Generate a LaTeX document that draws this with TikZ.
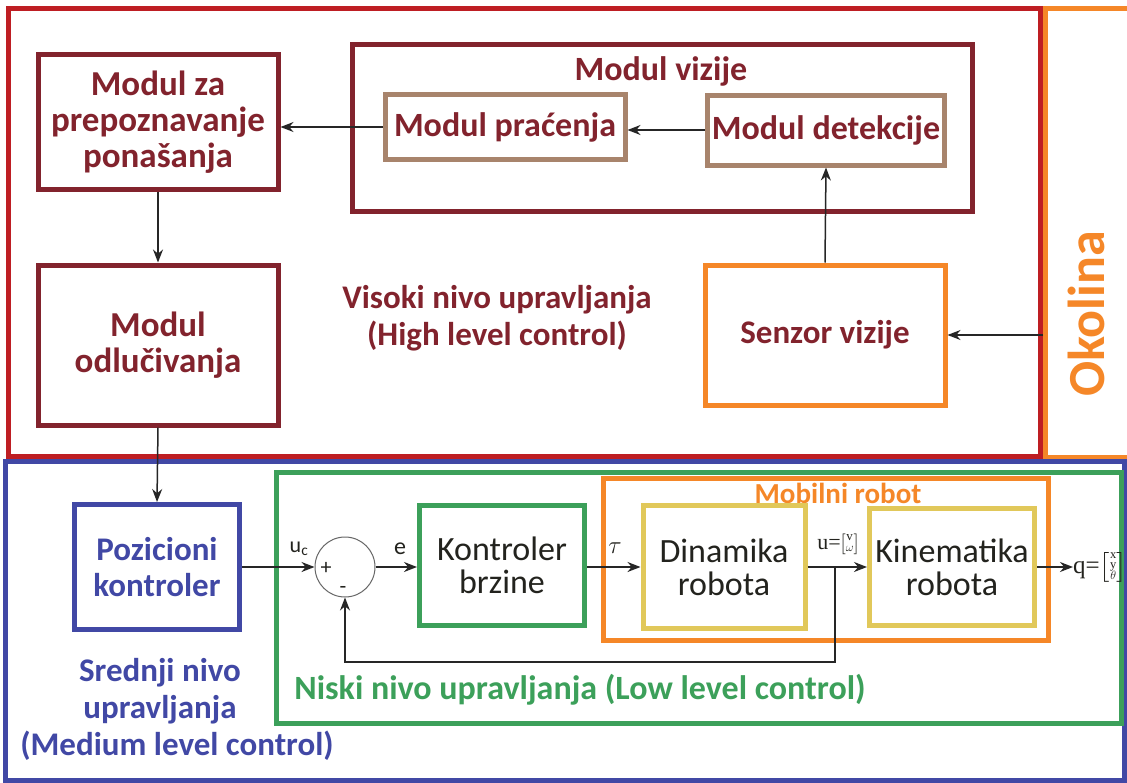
\documentclass[tikz,border=0pt]{standalone}
\usepackage{amsmath}
\usepackage{fontspec}
\setmainfont{Carlito}
\newfontfamily\serifx{Liberation Serif}
\usetikzlibrary{arrows.meta}
\definecolor{outred}{RGB}{190,30,35}
\definecolor{modred}{RGB}{130,35,45}
\definecolor{tan}{RGB}{168,132,108}
\definecolor{orng}{RGB}{245,135,40}
\definecolor{blu}{RGB}{65,72,165}
\definecolor{grn}{RGB}{60,160,90}
\definecolor{ylw}{RGB}{225,200,90}
\definecolor{txt}{RGB}{35,35,30}
\newcommand{\vstk}[3]{\vcenter{\hbox{\fontsize{#1}{#2}\selectfont\serifx\begin{tabular}{@{}c@{}}#3\end{tabular}}}}
\tikzset{
  arr/.style={draw=black!85, line width=1.5pt, -{Stealth[length=13pt,width=10pt]}},
  modbox/.style={draw=modred, line width=5pt, align=center, inner sep=0pt, text=modred,
    font=\bfseries\fontsize{35}{36}\selectfont},
  tanbox/.style={draw=tan, line width=5pt, align=center, inner sep=0pt, text=modred,
    font=\bfseries\fontsize{34}{36}\selectfont},
  senbox/.style={draw=orng, line width=5pt, align=center, inner sep=0pt, text=modred,
    font=\bfseries\fontsize{33}{36}\selectfont},
  pozbox/.style={draw=blu, line width=5pt, align=center, inner sep=0pt, text=blu,
    font=\bfseries\fontsize{33}{36}\selectfont},
  ctlbox/.style={line width=5pt, align=center, inner sep=0pt, text=txt,
    font=\fontsize{34}{33}\selectfont},
  lbl/.style={inner sep=0pt, text=txt, font=\fontsize{22}{24}\selectfont},
}
\begin{document}
\begin{tikzpicture}[x=1pt,y=-1pt]
\useasboundingbox (0,0) rectangle (1127,782);
\clip (0,0) rectangle (1127,782);
\fill[white] (0,0) rectangle (1127,782);
% outer frames
\draw[outred, line width=5pt] (8,8) rectangle (1040,456);
\draw[orng, line width=5pt] (1045,8) rectangle (1140,457);
\node[rotate=90, text=orng, font=\bfseries\fontsize{52}{54}\selectfont] (okol) at (1086,314) {Okolina};
\draw[blu, line width=5pt] (5,461) rectangle (1124,780);
\draw[grn, line width=5pt] (276,472) rectangle (1121,723);
% high level
\node[modbox, minimum width=240pt, minimum height=135pt] (prep) at (158,122) {Modul za\\prepoznavanje\\ponašanja};
\node[modbox, minimum width=240pt, minimum height=160pt] (odl) at (158,345) {Modul\\odlučivanja};
\node[modbox, minimum width=620pt, minimum height=167pt] (viz) at (662,128) {};
\node[inner sep=0pt, text=modred, font=\bfseries\fontsize{34}{36}\selectfont] (viztitle) at (661,71) {Modul vizije};
\node[tanbox, minimum width=240pt, minimum height=65pt] (prac) at (505,127) {Modul praćenja};
\node[tanbox, minimum width=237pt, minimum height=70pt] (det) at (826,130) {Modul detekcije};
\node[senbox, minimum width=240pt, minimum height=140pt] (sen) at (825,335) {Senzor vizije};
\node[align=center, inner sep=0pt, text=modred, font=\bfseries\fontsize{33}{37}\selectfont] (vis) at (497,318) {Visoki nivo upravljanja\\(High level control)};
\coordinate (okin) at (1043,335);
\draw[arr] (prac.west) -- (prac.west -| prep.east);
\draw[arr] (det.west) -- (det.west -| prac.east);
\draw[arr] (sen.north) -- (det.south);
\draw[arr] (okin) -- (okin -| sen.east);
\draw[arr] (prep.south) -- (odl.north);
% medium level
\node[pozbox, minimum width=165pt, minimum height=125pt] (poz) at (157,567) {Pozicioni\\kontroler};
\draw[arr] (odl.south) -- (poz.north);
\node[align=center, inner sep=0pt, text=blu, font=\bfseries\fontsize{33}{37}\selectfont] (sred) at (160,691) {Srednji nivo\\upravljanja};
\node[inner sep=0pt, text=blu, font=\bfseries\fontsize{33}{35}\selectfont] (med) at (177,746) {(Medium level control)};
% low level
\node[circle, draw=black!60, line width=1pt, minimum size=60pt, inner sep=0pt] (sum) at (345,567) {};
\node[lbl] (plus) at (326,568) {+};
\node[lbl] (minus) at (343,590) {-};
\node[lbl] (uc) at (299,549) {u\textsubscript{c}};
\draw[arr] (poz.east) -- (sum.west);
\node[ctlbox, draw=grn, minimum width=165pt, minimum height=120pt] (kon) at (502,565) {Kontroler\\brzine};
\draw[arr] (sum.east) -- (sum.east -| kon.west);
\node[lbl, font=\fontsize{24}{24}\selectfont] (e) at (400,549) {e};
\draw[orng, line width=5pt] (603,478) rectangle (1048,640);
\node[inner sep=0pt, text=orng, font=\bfseries\fontsize{29}{30}\selectfont] (mobt) at (838,493) {Mobilni robot};
\node[ctlbox, draw=ylw, minimum width=162pt, minimum height=123pt] (din) at (724,567) {Dinamika\\robota};
\draw[arr] (kon.east |- din.west) -- (din.west);
\node[lbl, font=\fontsize{24}{24}\selectfont] (tau) at (615,548) {$\tau$};
\node[ctlbox, draw=ylw, minimum width=165pt, minimum height=117pt] (kin) at (952,567) {Kinematika\\robota};
\draw[arr] (din.east) -- (kin.west);
\node[lbl, font=\fontsize{22}{22}\selectfont\serifx] (u) at (838,544) {u=$\left[\vstk{13}{11}{v\\$\omega$}\right]$};
\node[lbl, anchor=west, font=\fontsize{25}{25}\selectfont\serifx] (q) at (1073,567) {q=$\left[\vstk{12.5}{10}{x\\y\\$\theta$}\right]$};
\draw[arr] (kin.east) -- (q.west);
\coordinate (fb) at (835,567);
\coordinate (fbd) at (835,662);
\draw[arr] (fb) -- (fbd) -| (sum.south);
\node[inner sep=0pt, text=grn, font=\bfseries\fontsize{34}{36}\selectfont] (niski) at (580,690) {Niski nivo upravljanja (Low level control)};
\end{tikzpicture}
\end{document}
